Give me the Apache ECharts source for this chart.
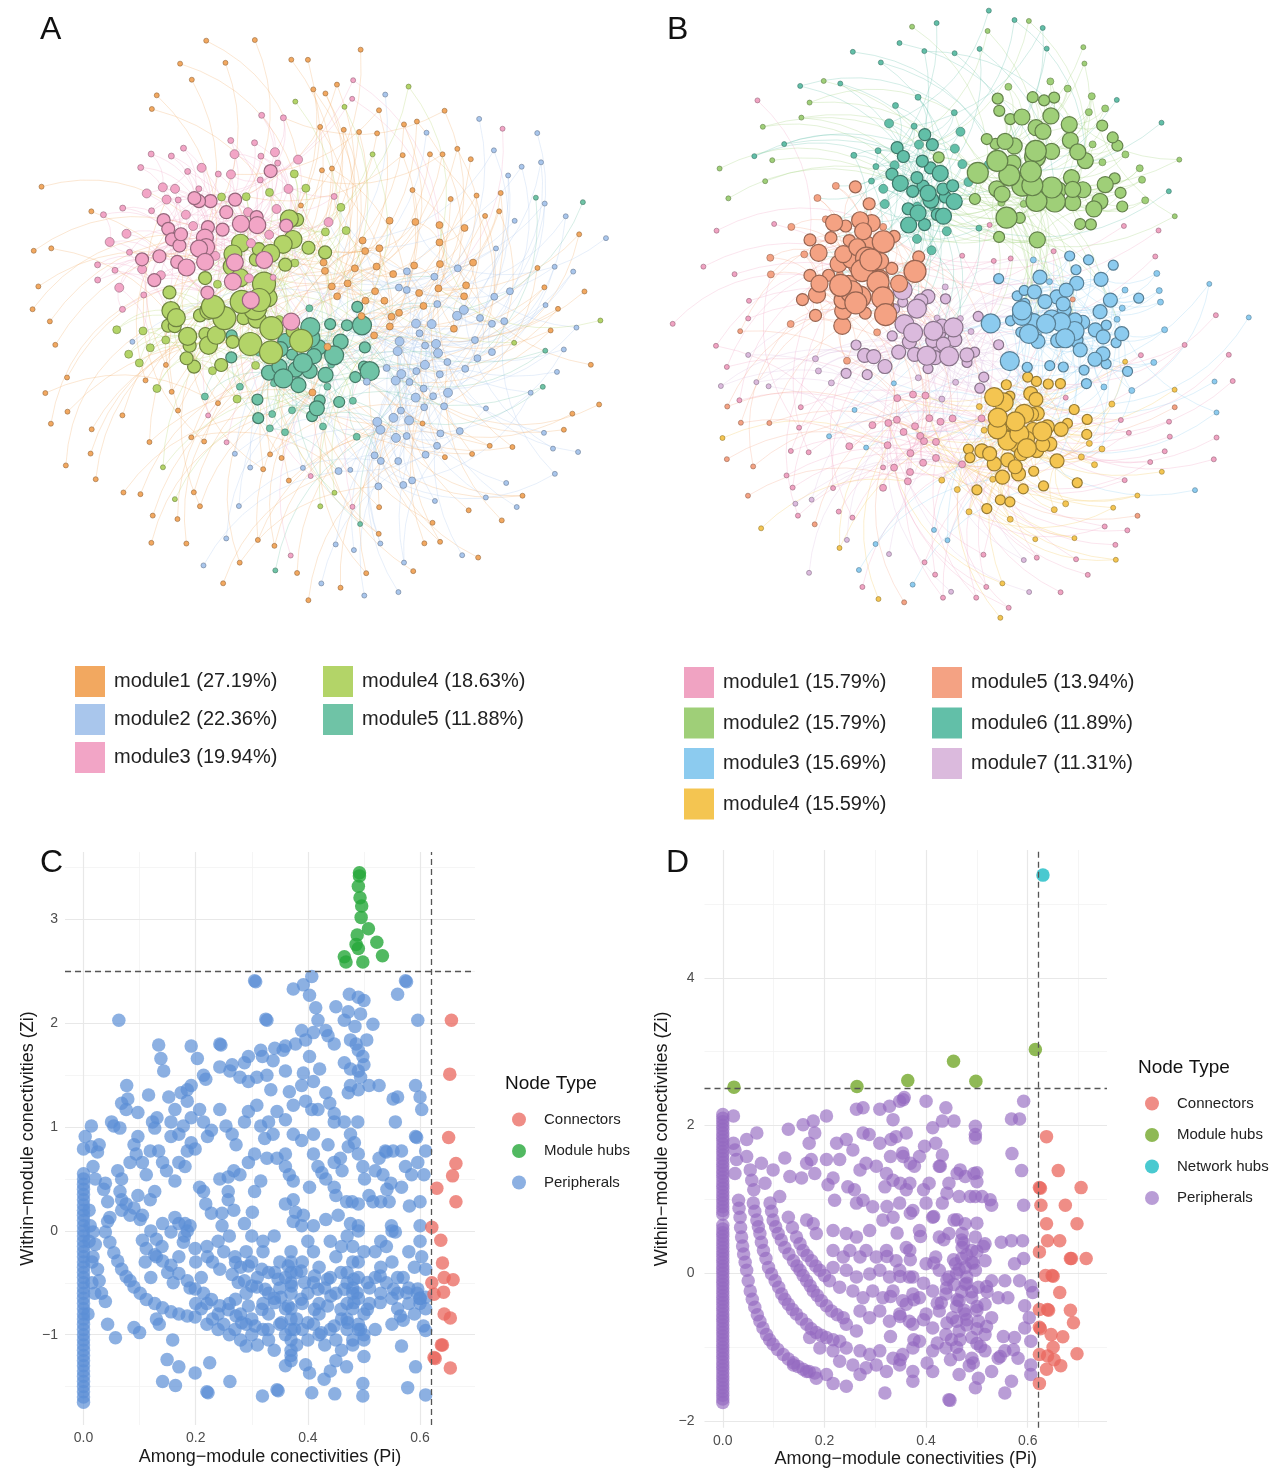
<!DOCTYPE html>
<html lang="en">
<head>
<meta charset="UTF-8">
<title>module networks and Zi-Pi plots</title>
<script src="https://cdn.jsdelivr.net/npm/echarts@6/dist/echarts.min.js"></script>
<style>html,body{margin:0;padding:0;background:#fff;}</style>
</head>
<body>
<div id="main" style="width:1280px;height:1473px;"></div>
<script type="text/javascript">
// ---------- network A ----------
var netANames = ['module1 (27.19%)', 'module2 (22.36%)', 'module3 (19.94%)', 'module4 (18.63%)', 'module5 (11.88%)'];
var netAColors = ['#f2a860', '#a9c6ec', '#f2a5c6', '#b3d468', '#6fc3a6'];
// [symbol diameter, node count] per module; the last tier holds the peripheral leaves
var netASizes = [
    [[7, 35], [5, 105]],
    [[9, 18], [7, 40], [5, 45]],
    [[17, 12], [13, 20], [9, 24], [6, 26], [5, 8]],
    [[23, 10], [18, 16], [13, 20], [8, 22], [5, 10]],
    [[19, 7], [15, 12], [11, 14], [7, 14], [5, 6]]
];
// modules that each module's leaves hang on, in turn
var netALeafHomes = [[0, 1, 0, 2, 0, 3, 1, 4], [1, 1, 0], [2, 0], [3, 0], [4, 1]];
// [module, module, number of core links between them]
var netACross = [[2, 3, 30], [3, 4, 30], [4, 1, 20], [1, 0, 20], [0, 2, 12], [2, 4, 8], [1, 2, 8]];

// ---------- network B ----------
var netBNames = ['module1 (15.79%)', 'module2 (15.79%)', 'module3 (15.69%)', 'module4 (15.59%)', 'module5 (13.94%)', 'module6 (11.89%)', 'module7 (11.31%)'];
var netBColors = ['#f0a3c2', '#9fcf78', '#8ccbef', '#f4c551', '#f4a283', '#62bfa8', '#dbbadd'];
var netBSizes = [
    [[7, 25], [5, 60]],
    [[21, 12], [16, 24], [11, 20], [7, 14], [5, 15]],
    [[19, 10], [14, 24], [10, 20], [6, 14], [5, 14]],
    [[19, 10], [14, 24], [10, 20], [6, 14], [5, 14]],
    [[22, 12], [17, 22], [12, 16], [7, 12], [5, 12]],
    [[16, 8], [12, 16], [9, 14], [6, 10], [5, 18]],
    [[19, 8], [14, 16], [10, 14], [6, 10], [5, 12]]
];
var netBLeafHomes = [[0, 6, 3, 0, 4], [1, 5], [2, 3], [3, 0], [4, 0], [5, 1, 5], [6, 0]];
var netBCross = [[1, 5, 30], [1, 2, 24], [5, 4, 28], [4, 6, 24], [6, 2, 20], [2, 3, 28], [6, 3, 16], [3, 0, 16], [6, 0, 16], [4, 0, 10], [5, 6, 10]];

// ---------- panel C (Zi-Pi) ----------
var cTicksX = [0, 0.2, 0.4, 0.6];
var cMinorX = [0.1, 0.3, 0.5];
var cTicksY = [-1, 0, 1, 2, 3];
var cMinorY = [-1.5, -0.5, 0.5, 1.5, 2.5, 3.5];
var cColumnZero = [0.55, 0.5, 0.45, 0.4, 0.35, 0.3, 0.25, 0.2, 0.15, 0.1, 0.05, 0, -0.05, -0.1, -0.15, -0.2, -0.25, -0.3, -0.35, -0.4, -0.45, -0.5, -0.55, -0.6, -0.65, -0.7, -0.75, -0.8, -0.85, -0.9, -0.95, -1, -1.05, -1.1, -1.15, -1.2, -1.25, -1.3, -1.35, -1.4, -1.45, -1.5, -1.55, -1.6, -1.65];
var cPeripherals = [
    [0.305,2.41],[0.307,2.40],[0.574,2.41],[0.576,2.40],[0.374,2.33],[0.392,2.37],[0.407,2.45],[0.403,2.27],[0.414,2.15],[0.418,2.03],[0.56,2.28],[0.474,2.28],[0.49,2.25],[0.5,2.22],[0.45,2.16],[0.472,2.11],[0.494,2.09],[0.465,2.03],[0.516,1.99],[0.484,1.97],[0.063,2.03],[0.596,2.03],[0.325,2.04],[0.327,2.03],[0.432,1.93],[0.389,1.93],[0.41,1.91],[0.396,1.84],[0.436,1.88],[0.447,1.8],[0.476,1.84],[0.486,1.8],[0.49,1.74],[0.498,1.68],[0.5,1.6],[0.505,1.84],[0.243,1.8],[0.245,1.79],[0.192,1.78],[0.134,1.79],[0.138,1.66],[0.143,1.54],[0.203,1.66],[0.36,1.78],[0.378,1.8],[0.356,1.74],[0.316,1.74],[0.319,1.68],[0.294,1.68],[0.287,1.62],[0.341,1.76],[0.338,1.64],[0.403,1.68],[0.421,1.56],[0.392,1.52],[0.389,1.4],[0.465,1.62],[0.476,1.56],[0.243,1.58],[0.265,1.6],[0.261,1.54],[0.214,1.5],[0.218,1.46],[0.192,1.4],[0.185,1.36],[0.174,1.33],[0.279,1.48],[0.294,1.44],[0.309,1.48],[0.327,1.5],[0.334,1.36],[0.36,1.54],[0.367,1.34],[0.41,1.44],[0.49,1.54],[0.494,1.48],[0.509,1.4],[0.49,1.36],[0.476,1.4],[0.472,1.33],[0.077,1.4],[0.068,1.23],[0.079,1.27],[0.076,1.17],[0.116,1.31],[0.152,1.29],[0.131,1.09],[0.123,1.05],[0.127,0.99],[0.097,1.14],[0.05,1.05],[0.054,1.01],[0.065,0.99],[0.014,1.01],[0.003,0.91],[0,0.79],[0.014,0.81],[0.028,0.83],[0.025,0.76],[0.163,1.17],[0.156,1.05],[0.185,1.25],[0.192,1.09],[0.207,1.17],[0.214,1.05],[0.178,1.01],[0.17,0.93],[0.156,0.91],[0.228,0.97],[0.221,0.91],[0.243,1.17],[0.254,1.01],[0.265,0.93],[0.272,0.83],[0.287,1.05],[0.294,1.15],[0.309,1.21],[0.316,1.01],[0.33,1.05],[0.345,1.15],[0.36,1.07],[0.374,1.21],[0.396,1.25],[0.407,1.17],[0.418,1.17],[0.432,1.33],[0.439,1.23],[0.447,1.13],[0.447,1.05],[0.465,1.05],[0.489,1.05],[0.527,1.4],[0.552,1.27],[0.56,1.29],[0.556,1.05],[0.592,1.4],[0.6,1.29],[0.603,1.17],[0.592,0.91],[0.594,0.9],[0.596,0.66],[0.61,0.77],[0.607,0.54],[0.6,0.28],[0.6,0.05],[0.603,-0.25],[0.61,-0.37],[0.596,-0.56],[0.61,-0.64],[0.61,-0.96],[0.592,-1.31],[0.578,-1.51],[0.61,-1.58],
    [0.039,0.46],[0.036,0.4],[0.043,0.28],[0.017,0.62],[0.021,0.5],[0.061,0.58],[0.068,0.5],[0.065,0.38],[0.068,0.3],[0.083,0.66],[0.094,0.74],[0.097,0.91],[0.09,0.83],[0.105,0.66],[0.112,0.54],[0.119,0.77],[0.134,0.77],[0.141,0.66],[0.148,0.58],[0.127,0.38],[0.119,0.3],[0.097,0.34],[0.09,0.22],[0.083,0.15],[0.076,0.26],[0.068,0.2],[0.047,0.13],[0.043,0.09],[0.105,0.15],[0.101,0.11],[0.17,0.66],[0.181,0.62],[0.185,0.77],[0.192,0.85],[0.199,0.79],[0.163,0.48],[0.17,0.07],[0.181,0.07],[0.185,0],[0.163,0.13],[0.207,0.42],[0.214,0.38],[0.218,0.26],[0.228,0.17],[0.247,0.17],[0.247,0.05],[0.258,0.3],[0.268,0.2],[0.243,0.5],[0.258,0.52],[0.268,0.58],[0.279,0.54],[0.258,0.38],[0.287,0.07],[0.301,0.18],[0.305,0.38],[0.316,0.48],[0.294,0.66],[0.305,0.74],[0.327,0.7],[0.345,0.7],[0.36,0.74],[0.323,0.89],[0.338,0.93],[0.374,0.93],[0.389,0.87],[0.36,0.62],[0.367,0.54],[0.374,0.48],[0.36,0.26],[0.374,0.3],[0.378,0.18],[0.374,0.09],[0.392,0.15],[0.389,0.05],[0.41,0.05],[0.403,0.42],[0.41,0.74],[0.418,0.62],[0.425,0.56],[0.432,0.5],[0.436,0.83],[0.41,0.93],[0.447,0.66],[0.458,0.7],[0.461,0.58],[0.447,0.42],[0.45,0.34],[0.476,0.93],[0.472,0.81],[0.483,0.85],[0.49,0.74],[0.498,0.62],[0.501,0.5],[0.469,0.28],[0.479,0.28],[0.49,0.26],[0.432,0.11],[0.454,0.15],[0.476,0.07],[0.49,0],[0.509,0.34],[0.516,0.28],[0.527,0.7],[0.52,0.58],[0.534,0.54],[0.538,0.77],[0.54,0.76],[0.552,0.77],[0.541,0.4],[0.548,0.46],[0.53,0.28],[0.545,0.28],[0.549,0.05],[0.556,-0.01],[0.567,0.77],[0.574,0.62],[0.567,0.42],[0.585,0.54],[0.581,0.24],
    [0.039,-0.01],[0.047,-0.11],[0.054,-0.21],[0.061,-0.29],[0.068,-0.37],[0.076,-0.44],[0.083,-0.48],[0.09,-0.54],[0.101,-0.6],[0.112,-0.66],[0.127,-0.7],[0.141,-0.74],[0.156,-0.78],[0.17,-0.8],[0.185,-0.82],[0.199,-0.83],
    [0.017,-0.25],[0.025,-0.37],[0.028,-0.48],[0.032,-0.6],[0.039,-0.68],[0.043,-0.9],[0.057,-1.03],[0.017,-0.01],[0.021,-0.13],
    [0.105,-0.09],[0.112,-0.17],[0.127,-0.23],[0.141,-0.29],[0.156,-0.33],[0.17,-0.41],[0.185,-0.48],[0.199,-0.56],[0.214,-0.6],[0.228,-0.66],[0.243,-0.72],[0.258,-0.76],[0.272,-0.82],
    [0.141,0.07],[0.156,-0.01],[0.178,-0.11],[0.199,-0.17],[0.221,-0.25],[0.243,-0.37],[0.265,-0.42],[0.287,-0.48],[0.309,-0.54],[0.33,-0.6],[0.352,-0.64],
    [0.2,-0.7],[0.21,-0.75],[0.22,-0.9],[0.23,-0.85],[0.24,-0.95],[0.25,-0.9],[0.26,-1.0],[0.27,-0.95],[0.28,-1.05],[0.29,-0.9],[0.3,-1.0],[0.28,-0.8],[0.26,-0.7],[0.24,-0.8],[0.22,-0.7],[0.3,-0.85],[0.31,-1.1],[0.32,-0.95],[0.33,-1.05],[0.33,-0.8],[0.35,-0.9],[0.34,-1.15],[0.36,-1.0],[0.37,-1.2],[0.38,-1.1],[0.38,-0.85],[0.39,-0.95],[0.4,-1.05],[0.41,-0.9],[0.42,-1.0],[0.42,-0.8],[0.43,-1.1],[0.44,-0.95],[0.45,-1.05],[0.46,-0.85],[0.46,-1.15],[0.47,-0.95],[0.48,-1.1],[0.48,-0.75],[0.49,-0.9],[0.5,-1.0],[0.5,-0.8],[0.51,-0.7],[0.52,-0.95],
    [0.37,-0.2],[0.37,-0.3],[0.37,-0.4],[0.37,-0.5],[0.37,-0.6],[0.37,-0.75],[0.37,-0.85],[0.37,-0.95],[0.37,-1.05],[0.37,-1.15],[0.37,-1.25],
    [0.47,-0.4],[0.47,-0.5],[0.48,-0.3],[0.48,-0.6],[0.49,-0.45],[0.49,-0.65],[0.48,-0.55],[0.47,-0.7],[0.49,-0.3],[0.5,-0.2],[0.48,-0.15],[0.47,-0.05],[0.49,0.05],[0.47,-0.85],[0.49,-0.95],[0.48,-1.05],
    [0.1,-0.98],[0.09,-0.93],[0.13,-0.85],[0.135,-0.9],[0.159,-1.05],[0.149,-1.24],[0.17,-1.31],[0.141,-1.45],[0.164,-1.49],[0.199,-1.37],[0.225,-1.27],[0.22,-1.55],[0.222,-1.56],[0.261,-1.45],[0.319,-1.59],[0.345,-1.53],[0.347,-1.54],[0.29,-1.11],[0.36,-1.3],[0.396,-1.29],[0.403,-1.37],[0.407,-1.56],[0.429,-1.43],[0.44,-1.35],[0.45,-1.25],[0.448,-1.57],[0.469,-1.31],[0.498,-1.47],[0.498,-1.59],[0.5,-1.21],[0.5,-1.05],[0.55,-0.9],[0.56,-0.75],[0.58,-0.7],[0.57,-0.86],[0.567,-1.11],[0.6,-0.65],[0.595,-0.6],
    [0.12,0.0],[0.13,-0.08],[0.14,-0.15],[0.13,-0.25],[0.15,-0.4],[0.16,-0.5],[0.12,-0.45],[0.11,-0.3],[0.17,-0.25],[0.18,-0.05],[0.19,0.05],[0.2,-0.3],[0.21,-0.45],[0.22,-0.15],[0.19,-0.55],[0.25,-0.2],[0.27,-0.25],[0.29,-0.2],[0.28,-0.35],[0.3,-0.3],[0.32,-0.2],[0.33,-0.4],[0.35,-0.3],[0.34,-0.05],[0.32,-0.1],[0.3,-0.05],[0.26,-0.05],[0.24,-0.1],[0.23,-0.3],[0.31,-0.45],[0.29,-0.6],[0.35,-0.55],[0.36,-0.45],[0.38,-0.4],[0.39,-0.3],[0.4,-0.1],[0.41,-0.2],[0.42,-0.35],[0.41,-0.5],[0.4,-0.6],[0.43,-0.55],[0.44,-0.45],[0.45,-0.25],[0.44,-0.1],[0.46,-0.15],[0.45,-0.6],[0.42,-0.7],[0.39,-0.7],[0.36,-0.75],[0.34,-0.65],[0.32,-0.7],
    [0.52,-0.2],[0.53,-0.35],[0.54,-0.5],[0.55,-0.3],[0.56,-0.45],[0.53,-0.6],[0.55,-0.65],[0.52,-0.45],[0.51,-0.55],[0.53,-0.1],[0.55,0.0],[0.54,-0.15],[0.56,-0.6],[0.58,-0.2],[0.59,-0.35],[0.58,-0.55],[0.57,-0.45],[0.6,-0.1],[0.59,-0.8],[0.6,-0.7],[0.61,-0.75],[0.6,-0.65],
    [0.01,0.2],[0.01,-0.1],[0.015,-0.3],[0.015,-0.5],[0.02,-0.6],[0.012,0.05],[0.008,-0.8],
    [0.271,-0.305],[0.294,-0.338],[0.318,-0.37],[0.341,-0.4],[0.365,-0.338],[0.388,-0.386],[0.412,-0.434],[0.435,-0.466],[0.459,-0.4],[0.482,-0.466],[0.506,-0.498],[0.529,-0.434],[0.553,-0.563],[0.576,-0.595],[0.276,-0.498],[0.3,-0.53],[0.324,-0.563],[0.347,-0.466],[0.371,-0.53],[0.394,-0.498],[0.418,-0.563],[0.441,-0.627],[0.465,-0.563],[0.488,-0.595],[0.271,-0.659],[0.294,-0.723],[0.318,-0.756],[0.341,-0.691],[0.365,-0.723],[0.388,-0.659],[0.412,-0.756],[0.435,-0.723],[0.459,-0.756],[0.482,-0.691],[0.506,-0.756],[0.529,-0.691],[0.282,-0.884],[0.306,-0.916],[0.329,-0.949],[0.353,-0.884],[0.376,-0.949],[0.4,-0.884],[0.424,-0.981],[0.447,-0.916],[0.471,-0.884],[0.494,-0.949],[0.565,-0.82],[0.606,-0.916]
];
var cHubs = [[0.492,3.45],[0.492,3.42],[0.49,3.32],[0.493,3.21],[0.496,3.13],[0.495,3.02],[0.508,2.91],[0.488,2.85],[0.486,2.76],[0.49,2.72],[0.523,2.78],[0.533,2.65],[0.465,2.64],[0.468,2.59],[0.498,2.59]];
var cConnectors = [[0.656,2.03],[0.653,1.51],[0.651,0.9],[0.664,0.65],[0.658,0.53],[0.664,0.28],[0.63,0.41],[0.621,0.035],[0.637,-0.09],[0.64,-0.31],[0.643,-0.45],[0.659,-0.47],[0.621,-0.5],[0.625,-0.61],[0.642,-0.59],[0.643,-0.8],[0.654,-0.84],[0.638,-1.1],[0.64,-1.1],[0.625,-1.22],[0.627,-1.23],[0.654,-1.32]];

// ---------- panel D (Zi-Pi) ----------
var dTicksX = [0, 0.2, 0.4, 0.6];
var dMinorX = [0.1, 0.3, 0.5, 0.7];
var dTicksY = [-2, 0, 2, 4];
var dMinorY = [-1, 1, 3, 5];
var dColumnZero = [2.15, 2.1, 2.05, 2, 1.95, 1.9, 1.85, 1.8, 1.75, 1.7, 1.65, 1.6, 1.55, 1.5, 1.45, 1.4, 1.35, 1.3, 1.25, 1.2, 1.15, 1.1, 1.05, 1, 0.95, 0.9, 0.85, 0.8, 0.65, 0.6, 0.55, 0.5, 0.45, 0.4, 0.35, 0.3, 0.25, 0.2, 0.15, 0.1, 0.05, 0, -0.05, -0.1, -0.15, -0.2, -0.25, -0.3, -0.35, -0.4, -0.45, -0.5, -0.55, -0.6, -0.65, -0.7, -0.75, -0.8, -0.85, -0.9, -0.95, -1, -1.05, -1.1, -1.15, -1.2, -1.25, -1.3, -1.35, -1.4, -1.45, -1.5, -1.55, -1.6, -1.65, -1.7, -1.75];
var dPeripherals = [
    [0.021,2.13],[0.021,1.76],[0.024,1.67],[0.027,1.54],[0.024,1.35],[0.047,1.81],[0.047,1.58],[0.054,1.4],[0.057,1.26],[0.061,1.13],
    [0.031,0.99],[0.034,0.76],[0.037,0.49],[0.041,0.26],[0.047,0.04],[0.054,-0.24],[0.063,-0.46],[0.073,-0.65],[0.086,-0.83],[0.099,-0.96],[0.119,-1.1],[0.139,-1.21],[0.158,-1.3],[0.181,-1.35],[0.204,-1.37],
    [0.032,0.88],[0.035,0.62],[0.039,0.37],[0.044,0.15],[0.05,-0.1],[0.058,-0.35],[0.068,-0.56],[0.079,-0.74],[0.092,-0.9],[0.108,-1.03],[0.129,-1.16],[0.148,-1.26],[0.17,-1.33],
    [0.06,0.95],[0.067,0.72],[0.073,0.54],[0.08,0.31],[0.09,0.08],[0.103,-0.1],[0.116,-0.28],[0.129,-0.42],[0.145,-0.55],[0.165,-0.69],[0.184,-0.8],[0.204,-0.87],[0.23,-0.92],
    [0.063,0.84],[0.07,0.63],[0.076,0.42],[0.085,0.2],[0.096,-0.01],[0.11,-0.19],[0.122,-0.35],[0.137,-0.49],[0.155,-0.62],[0.174,-0.75],[0.194,-0.84],[0.217,-0.9],
    [0.093,0.95],[0.099,0.72],[0.109,0.54],[0.122,0.35],[0.139,0.17],[0.152,0.04],[0.165,-0.1],[0.178,-0.24],[0.194,-0.37],[0.214,-0.51],[0.237,-0.6],
    [0.096,0.84],[0.104,0.63],[0.115,0.45],[0.13,0.26],[0.146,0.1],[0.158,-0.03],[0.172,-0.17],[0.186,-0.3],[0.204,-0.44],[0.225,-0.56],
    [0.129,0.76],[0.145,0.49],[0.158,0.31],[0.175,0.17],[0.191,0.04],[0.21,-0.1],[0.23,-0.19],[0.137,0.62],[0.152,0.4],[0.166,0.24],[0.183,0.1],[0.2,-0.03],
    [0.067,1.9],[0.076,1.49],[0.083,1.22],[0.099,1.4],[0.112,1.04],[0.122,1.56],[0.129,1.95],[0.132,1.31],[0.155,1.29],[0.158,2.01],[0.178,2.06],[0.181,1.9],[0.17,1.76],[0.174,1.54],[0.165,1.49],[0.181,1.35],[0.204,2.13],[0.204,1.54],[0.207,1.2],[0.217,1.29],[0.22,0.99],[0.224,1.76],[0.243,1.81],[0.256,1.67],[0.23,1.54],[0.246,1.17],[0.263,2.22],[0.276,2.24],[0.276,1.9],[0.288,1.88],[0.309,1.76],[0.27,1.4],[0.282,1.49],[0.302,1.45],[0.259,1.13],[0.276,0.99],[0.263,0.95],[0.309,2.22],[0.328,2.26],[0.348,2.33],[0.357,2.38],[0.335,2.08],[0.341,1.85],[0.331,1.81],[0.361,1.9],[0.322,1.35],[0.319,1.17],[0.335,1.26],[0.354,1.63],[0.361,1.13],[0.348,0.95],[0.295,0.9],[0.315,0.72],[0.335,0.76],[0.289,0.58],[0.263,0.49],[0.243,0.54],[0.217,0.58],[0.184,0.54],[0.178,0.67],[0.165,0.72],[0.217,0.31],[0.237,0.22],[0.25,0.31],[0.27,0.22],[0.282,0.31],[0.302,0.22],[0.322,0.31],[0.341,0.17],[0.361,0.35],[0.217,0.08],[0.243,0.04],[0.263,-0.05],[0.289,-0.01],[0.309,0.04],[0.328,-0.05],[0.348,0.04],[0.367,-0.05],[0.256,-0.24],[0.276,-0.33],[0.295,-0.24],[0.315,-0.33],[0.335,-0.24],[0.354,-0.37],[0.374,-0.28],[0.27,-0.51],[0.289,-0.6],[0.309,-0.51],[0.328,-0.65],[0.348,-0.55],[0.367,-0.65],[0.243,-0.69],[0.263,-0.78],
    [0.171,-0.87],[0.191,-1.01],[0.217,-1.05],[0.243,-1.01],[0.27,-1.05],[0.289,-1.1],[0.309,-1.05],[0.335,-1.15],[0.354,-1.1],[0.374,-1.01],[0.139,-1.24],[0.165,-1.33],[0.184,-1.42],[0.217,-1.49],[0.243,-1.53],[0.27,-1.37],[0.282,-1.28],[0.302,-1.24],[0.322,-1.33],[0.348,-1.24],[0.374,-1.33],[0.319,-1.62],[0.23,-1.19],[0.256,-1.24],
    [0.355,2.35],[0.4,2.33],[0.439,2.24],[0.413,1.97],[0.432,2.06],[0.455,2.06],[0.497,1.99],[0.497,1.88],[0.497,1.83],[0.397,1.72],[0.419,1.76],[0.432,1.6],[0.377,1.45],[0.426,1.45],[0.461,1.35],[0.494,1.35],[0.5,1.24],[0.355,1.58],[0.387,1.58],[0.368,1.22],[0.406,1.22],[0.445,1.22],[0.477,1.31],[0.51,1.04],[0.529,0.92],[0.497,1.04],[0.465,1.04],[0.432,0.95],[0.4,0.95],[0.374,0.85],[0.413,0.76],[0.455,0.72],[0.477,0.67],[0.387,0.58],[0.426,0.49],[0.471,0.54],[0.497,0.49],[0.516,0.4],[0.548,0.42],[0.568,0.44],[0.59,0.44],[0.592,0.2],[0.574,0.13],[0.555,-0.1],[0.584,-0.1],[0.61,-0.26],[0.606,-0.17],[0.561,-0.33],[0.594,-0.44],[0.603,-0.6],[0.594,-0.74],[0.606,-0.92],[0.574,-0.87],[0.555,-1.05],[0.581,-1.15],[0.606,-1.24],[0.606,-1.37],[0.568,-1.46],[0.555,-1.62],[0.497,-1.55],[0.503,-1.42],[0.445,-1.71],[0.447,-1.72],[0.374,-1.46],[0.413,-1.33],[0.465,-1.37],[0.529,-1.33],[0.542,-1.15],
    [0.445,0.54],[0.471,0.35],[0.49,0.31],[0.458,0.13],[0.477,0.08],[0.497,0.04],[0.516,0.17],[0.445,-0.05],[0.477,-0.15],[0.503,-0.19],[0.529,-0.1],[0.439,-0.28],[0.465,-0.37],[0.49,-0.33],[0.516,-0.42],[0.542,-0.33],[0.426,-0.51],[0.452,-0.6],[0.477,-0.55],[0.503,-0.65],[0.529,-0.6],[0.413,-0.74],[0.439,-0.83],[0.465,-0.78],[0.49,-0.87],[0.516,-0.83],[0.387,-0.92],[0.413,-1.05],[0.439,-1.01],[0.465,-1.1],[0.49,-1.15],[0.516,-1.05],[0.374,-0.69],[0.361,-0.42],[0.387,-0.33],[0.374,-0.05],[0.4,0.13],[0.419,0.22],[0.368,0.31],[0.413,-0.24],[0.4,-0.55],[0.426,0.04],
    [0.46,0.0],[0.48,-0.05],[0.47,-0.25],[0.5,-0.5],[0.46,-0.45],[0.48,-0.7],[0.45,-0.9],[0.5,-0.95],[0.47,0.2],[0.49,0.15],[0.46,-0.65],[0.44,-0.2],[0.52,-0.25],[0.43,-0.4],
    [0.568,2.09],[0.584,2.09],[0.592,2.33],[0.569,1.62],[0.588,1.39],[0.592,0.92],
    [0.33,1.58],[0.369,1.49],[0.428,1.45],[0.467,1.40],[0.5,1.36],[0.349,1.22],[0.395,1.13],[0.441,1.085],[0.487,1.04],[0.526,0.995],[0.323,0.905],[0.369,0.814],[0.415,0.769],[0.461,0.724],[0.5,0.679],[0.343,0.544],[0.389,0.499],[0.435,0.454],[0.474,0.409],[0.513,0.363],[0.323,0.228],[0.369,0.183],[0.415,0.138],[0.454,0.183],[0.493,0.138],[0.349,-0.043],[0.395,-0.133],[0.441,-0.088],[0.48,-0.133],[0.519,-0.178],[0.33,-0.314],[0.376,-0.359],[0.422,-0.404],[0.461,-0.359],[0.5,-0.449],[0.349,-0.584],[0.395,-0.629],[0.441,-0.674],[0.48,-0.629],[0.519,-0.719],[0.33,-0.855],[0.376,-0.9],[0.422,-0.945],[0.467,-0.9],[0.507,-0.99],[0.552,-0.855],[0.349,-1.17],[0.402,-1.215],[0.448,-1.17],[0.493,-1.215],[0.546,-1.125],[0.572,-1.035],
    [0.47,0.45],[0.48,0.25],[0.465,0.05],[0.49,-0.25],[0.475,-0.5],[0.5,-0.75],[0.46,-1.0],[0.485,-1.25],[0.5,0.3],[0.455,-0.15]
];
var dModuleHubs = [[0.022,2.52],[0.264,2.53],[0.364,2.61],[0.454,2.87],[0.498,2.6],[0.615,3.03]];
var dNetworkHubs = [[0.63,5.39]];
var dConnectors = [[0.637,1.85],[0.66,1.39],[0.623,1.16],[0.625,1.15],[0.705,1.16],[0.626,0.92],[0.674,0.92],[0.637,0.67],[0.697,0.67],[0.639,0.44],[0.663,0.44],[0.623,0.29],[0.684,0.2],[0.686,0.2],[0.715,0.2],[0.635,-0.03],[0.648,-0.03],[0.65,-0.04],[0.663,-0.26],[0.623,-0.49],[0.639,-0.49],[0.641,-0.5],[0.684,-0.5],[0.69,-0.67],[0.623,-0.73],[0.625,-0.75],[0.646,-0.83],[0.669,-0.86],[0.65,-1.0],[0.623,-1.1],[0.639,-1.12],[0.652,-1.17],[0.665,-1.25],[0.637,-1.3],[0.697,-1.09],[0.623,-1.49]];

// fixed seed so the force layouts come out the same on every load.
// The force layout draws an (x, y) pair per node for its start. For network A
// each pair is handed back mirrored, for network B turned a quarter turn, so
// the modules settle roughly where the figure has them.
var seed = 20240611, randCalls = 0, spare = null;
var netACount = netASizes.reduce(function (s, m) { return s + m.reduce(function (t, tier) { return t + tier[1]; }, 0); }, 0);
function lcg() {
    seed = (seed * 16807) % 2147483647;
    return (seed - 1) / 2147483646;
}
Math.random = function () {
    randCalls++;
    if (spare !== null) {
        var s = spare;
        spare = null;
        return s;
    }
    var r1 = lcg(), r2 = lcg();
    spare = randCalls <= 2 * netACount ? r1 : 1 - r1;
    return r2;
};

function darker(hex, f) {
    var n = parseInt(hex.slice(1), 16);
    var r = Math.round(((n >> 16) & 255) * f);
    var g = Math.round(((n >> 8) & 255) * f);
    var b = Math.round((n & 255) * f);
    return 'rgb(' + r + ',' + g + ',' + b + ')';
}

// each module: a tree of its bigger nodes (short links), plus leaves hung on
// modules listed in leafHomes (long links); core links join neighbouring modules
function buildNet(prefix, names, colors, sizes, leafHomes, cross) {
    var nodes = [], links = [], trees = [], leaves = [], seen = {};
    function addLink(s, t, v) {
        if (s === t) return;
        var key = s < t ? s + '|' + t : t + '|' + s;
        if (seen[key]) return;
        seen[key] = true;
        links.push({source: s, target: t, value: v});
    }
    names.forEach(function (nm, m) {
        var tree = [], leaf = [];
        sizes[m].forEach(function (tier, ti) {
            for (var c = 0; c < tier[1]; c++) {
                var id = prefix + m + '_' + ti + '_' + c;
                nodes.push({
                    id: id, name: id, category: m, value: tier[0], symbolSize: tier[0],
                    itemStyle: {
                        color: colors[m],
                        borderColor: darker(colors[m], 0.62),
                        borderWidth: tier[0] > 9 ? 1.2 : 0.6
                    }
                });
                (ti === sizes[m].length - 1 ? leaf : tree).push({id: id, size: tier[0]});
            }
        });
        trees.push(tree);
        leaves.push(leaf);
        for (var k = 1; k < tree.length; k++) {
            addLink(tree[k].id, tree[Math.floor((k - 1) / 2)].id, 10);
            if (k >= 3) addLink(tree[k].id, tree[Math.floor(k / 3)].id, 10);
            if (tree[k].size >= 12) addLink(tree[k].id, tree[k - 1].id, 10);
        }
    });
    leaves.forEach(function (leaf, m) {
        var homes = leafHomes[m];
        leaf.forEach(function (nd, j) {
            var h = trees[homes[j % homes.length]];
            addLink(nd.id, h[(j * 5 + 1) % h.length].id, 1);
            if (j % 2 === 0) {
                var h2 = trees[homes[(j + 1) % homes.length]];
                addLink(nd.id, h2[(j * 3 + 2) % h2.length].id, 1);
            }
        });
    });
    cross.forEach(function (c) {
        var a = trees[c[0]], b = trees[c[1]];
        for (var i = 0; i < c[2]; i++) {
            addLink(a[(i * 7 + 3) % a.length].id, b[(i * 11 + 5) % b.length].id, 8);
        }
    });
    nodes.reverse(); // small nodes drawn first, big ones on top
    return {nodes: nodes, links: links};
}

var netA = buildNet('a', netANames, netAColors, netASizes, netALeafHomes, netACross);
var netB = buildNet('b', netBNames, netBColors, netBSizes, netBLeafHomes, netBCross);

// repulsion runs from the smallest node value to the largest: small leaves push hardest
function graphSeries(net, names, colors, box, rep, gravity) {
    return {
        type: 'graph',
        layout: 'force',
        left: box[0], top: box[1], width: box[2], height: box[3],
        categories: names.map(function (n, i) { return {name: n, itemStyle: {color: colors[i]}}; }),
        data: net.nodes,
        links: net.links,
        roam: false,
        silent: true,
        label: {show: false},
        force: {
            repulsion: rep,
            gravity: gravity,
            edgeLength: [22, 150],
            friction: 0.6,
            layoutAnimation: false
        },
        lineStyle: {color: 'source', opacity: 0.4, width: 0.7, curveness: 0.25}
    };
}

function withZero(col) { return col.map(function (y) { return [0, y]; }); }
function minusFmt(v) { return v < 0 ? '\u2212' + Math.abs(v) : String(v); }

function gridLines(majX, minX, majY, minY) {
    var d = [];
    minX.forEach(function (v) { d.push({xAxis: v, lineStyle: {color: '#f3f3f3', width: 0.8, type: 'solid'}}); });
    minY.forEach(function (v) { d.push({yAxis: v, lineStyle: {color: '#f3f3f3', width: 0.8, type: 'solid'}}); });
    majX.forEach(function (v) { d.push({xAxis: v, lineStyle: {color: '#e8e8e8', width: 1.2, type: 'solid'}}); });
    majY.forEach(function (v) { d.push({yAxis: v, lineStyle: {color: '#e8e8e8', width: 1.2, type: 'solid'}}); });
    return {silent: true, symbol: ['none', 'none'], label: {show: false}, animation: false, z: 1, data: d};
}

var dashLines = {
    silent: true, symbol: ['none', 'none'], label: {show: false}, animation: false,
    lineStyle: {color: '#555', width: 1.3, type: [6, 4]},
    data: [{xAxis: 0.62}, {yAxis: 2.5}]
};

var axisFont = {color: '#4d4d4d', fontSize: 14, fontFamily: 'Liberation Sans'};
var titleFont = {color: '#1a1a1a', fontSize: 18, fontFamily: 'Liberation Sans'};
var legFont = {fontSize: 20, color: '#222', fontFamily: 'Liberation Sans', padding: [0, 0, 0, 4]};
function netLegend(data, left, top, gap) {
    return {data: data, left: left, top: top, orient: 'vertical', icon: 'rect', itemWidth: 30, itemHeight: 31,
        itemGap: gap, padding: 0, selectedMode: false, textStyle: legFont};
}
var typeFont = {fontSize: 15, color: '#222', fontFamily: 'Liberation Sans', padding: [0, 0, 0, 13]};

var myChart = echarts.init(document.getElementById('main'), null, {renderer: 'canvas'});

var option = {
    backgroundColor: '#fff',
    animation: false,
    graphic: [
        {type: 'text', left: 40, top: 14, style: {text: 'A', font: '32px "Liberation Sans"', fill: '#111'}},
        {type: 'text', left: 667, top: 14, style: {text: 'B', font: '32px "Liberation Sans"', fill: '#111'}},
        {type: 'text', left: 40, top: 847, style: {text: 'C', font: '32px "Liberation Sans"', fill: '#111'}},
        {type: 'text', left: 666, top: 847, style: {text: 'D', font: '32px "Liberation Sans"', fill: '#111'}},
        {type: 'text', left: 505, top: 1074, style: {text: 'Node Type', font: '19px "Liberation Sans"', fill: '#111'}},
        {type: 'text', left: 1138, top: 1058, style: {text: 'Node Type', font: '19px "Liberation Sans"', fill: '#111'}}
    ],
    legend: [
        netLegend(netANames.slice(0, 3), 75, 666, 7),
        netLegend(netANames.slice(3), 323, 666, 7),
        netLegend(netBNames.slice(0, 4), 684, 667, 9.5),
        netLegend(netBNames.slice(4), 932, 667, 9.5),
        {
            data: [
                {name: 'Connectors', itemStyle: {color: '#e9675d', opacity: 0.75}},
                {name: 'Module hubs', itemStyle: {color: '#25a83a', opacity: 0.8}},
                {name: 'Peripherals', itemStyle: {color: '#5b8fd6', opacity: 0.7}}
            ],
            left: 512, top: 1112, orient: 'vertical', icon: 'circle', itemWidth: 14, itemHeight: 14,
            itemGap: 16.5, padding: 0, selectedMode: false, textStyle: typeFont
        },
        {
            data: [
                {name: 'Connectors', itemStyle: {color: '#e9675d', opacity: 0.75}},
                {name: 'Module hubs', itemStyle: {color: '#73a82a', opacity: 0.8}},
                {name: 'Network hubs', itemStyle: {color: '#1bbcc4', opacity: 0.8}},
                {name: 'Peripherals', itemStyle: {color: '#9468c0', opacity: 0.65}}
            ],
            left: 1145, top: 1096, orient: 'vertical', icon: 'circle', itemWidth: 14, itemHeight: 14,
            itemGap: 16.5, padding: 0, selectedMode: false, textStyle: typeFont
        }
    ],
    grid: [
        {left: 65, top: 852, width: 410, height: 573},
        {left: 704.5, top: 850, width: 402.5, height: 577.7}
    ],
    xAxis: [
        {
            type: 'value', gridIndex: 0, min: -0.033, max: 0.698,
            axisLine: {show: false}, axisTick: {show: false}, splitLine: {show: false},
            axisLabel: {customValues: cTicksX, formatter: function (v) { return v.toFixed(1); }, margin: 6, textStyle: axisFont},
            name: 'Among\u2212module conectivities (Pi)', nameLocation: 'middle', nameGap: 23, nameTextStyle: titleFont
        },
        {
            type: 'value', gridIndex: 1, min: -0.036, max: 0.756,
            axisLine: {show: false}, axisTick: {show: false}, splitLine: {show: false},
            axisLabel: {customValues: dTicksX, formatter: function (v) { return v.toFixed(1); }, margin: 6, textStyle: axisFont},
            name: 'Among\u2212module conectivities (Pi)', nameLocation: 'middle', nameGap: 22, nameTextStyle: titleFont
        }
    ],
    yAxis: [
        {
            type: 'value', gridIndex: 0, min: -1.87, max: 3.65,
            axisLine: {show: false}, axisTick: {show: false}, splitLine: {show: false},
            axisLabel: {customValues: cTicksY, formatter: minusFmt, margin: 7, textStyle: axisFont},
            name: 'Within\u2212module conectivities (Zi)', nameLocation: 'middle', nameGap: 28, nameTextStyle: titleFont
        },
        {
            type: 'value', gridIndex: 1, min: -2.09, max: 5.73,
            axisLine: {show: false}, axisTick: {show: false}, splitLine: {show: false},
            axisLabel: {customValues: dTicksY, formatter: minusFmt, margin: 10, textStyle: axisFont},
            name: 'Within\u2212module conectivities (Zi)', nameLocation: 'middle', nameGap: 33, nameTextStyle: titleFont
        }
    ],
    series: [
        graphSeries(netA, netANames, netAColors, [0, 4, 630, 630], [22, 3], 0.2),
        graphSeries(netB, netBNames, netBColors, [655, 0, 630, 630], [20, 6], 0.2),
        {
            name: 'Peripherals', type: 'scatter', xAxisIndex: 0, yAxisIndex: 0, symbolSize: 13.5,
            itemStyle: {color: '#5b8fd6', opacity: 0.7},
            data: withZero(cColumnZero).concat(cPeripherals),
            markLine: gridLines(cTicksX, cMinorX, cTicksY, cMinorY)
        },
        {
            name: 'Module hubs', type: 'scatter', xAxisIndex: 0, yAxisIndex: 0, symbolSize: 13.5,
            itemStyle: {color: '#25a83a', opacity: 0.8}, data: cHubs
        },
        {
            name: 'Connectors', type: 'scatter', xAxisIndex: 0, yAxisIndex: 0, symbolSize: 13.5,
            itemStyle: {color: '#e9675d', opacity: 0.75}, data: cConnectors, markLine: dashLines
        },
        {
            name: 'Peripherals', type: 'scatter', xAxisIndex: 1, yAxisIndex: 1, symbolSize: 13.5,
            itemStyle: {color: '#9468c0', opacity: 0.65},
            data: withZero(dColumnZero).concat(dPeripherals),
            markLine: gridLines(dTicksX, dMinorX, dTicksY, dMinorY)
        },
        {
            name: 'Module hubs', type: 'scatter', xAxisIndex: 1, yAxisIndex: 1, symbolSize: 13.5,
            itemStyle: {color: '#73a82a', opacity: 0.8}, data: dModuleHubs
        },
        {
            name: 'Network hubs', type: 'scatter', xAxisIndex: 1, yAxisIndex: 1, symbolSize: 13.5,
            itemStyle: {color: '#1bbcc4', opacity: 0.8}, data: dNetworkHubs
        },
        {
            name: 'Connectors', type: 'scatter', xAxisIndex: 1, yAxisIndex: 1, symbolSize: 13.5,
            itemStyle: {color: '#e9675d', opacity: 0.75}, data: dConnectors, markLine: dashLines
        }
    ]
};

myChart.setOption(option);
</script>
</body>
</html>
